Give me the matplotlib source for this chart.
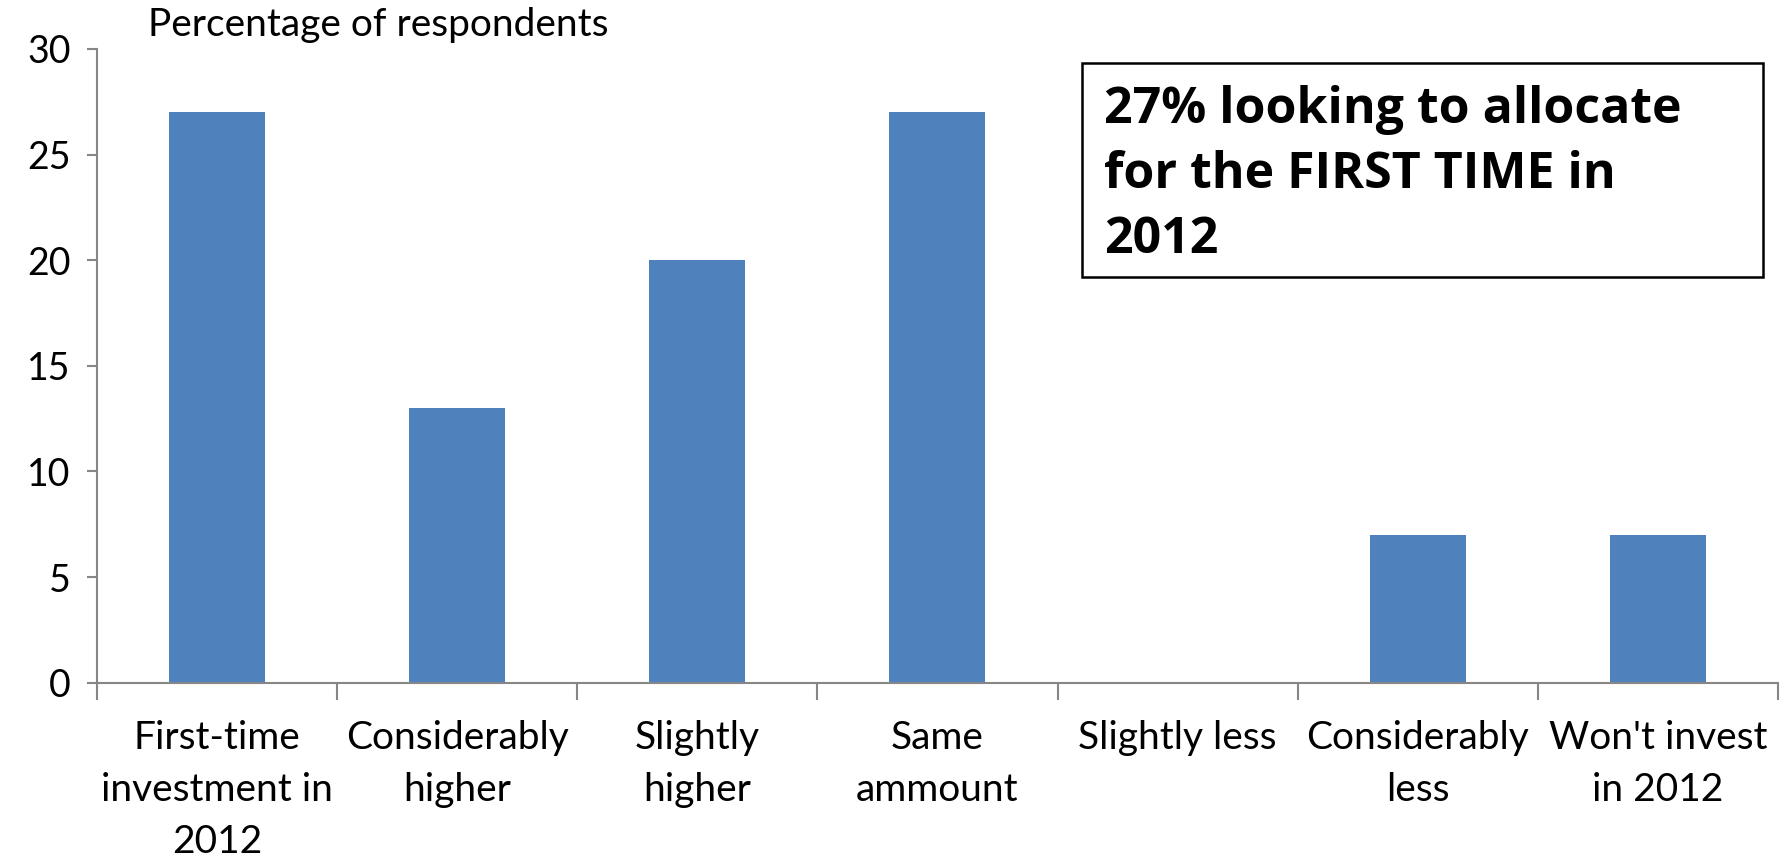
import matplotlib
matplotlib.use("Agg")
import matplotlib.pyplot as plt
from matplotlib.patches import Rectangle
import numpy as np
from matplotlib.ticker import FixedLocator, NullFormatter

categories = [
    "First-time\ninvestment in\n2012",
    "Considerably\nhigher",
    "Slightly\nhigher",
    "Same\nammount",
    "Slightly less",
    "Considerably\nless",
    "Won't invest\nin 2012",
]
percentages = [27, 13, 20, 27, 0, 7, 7]
y_ticks = [0, 5, 10, 15, 20, 25, 30]
callout_lines = ["27% looking to allocate", "for the FIRST TIME in", "2012"]

bar_color = "#4F81BD"
axis_color = "#868686"
font = "Lato"
callout_font = "Open Sans"

W, H = 1787, 859
fig = plt.figure(figsize=(W / 100, H / 100), dpi=100)
ax = fig.add_axes([0.0542, 0.2052, 0.9408, 0.7378])

x = np.arange(len(categories))
ax.bar(x, percentages, width=0.4, color=bar_color, zorder=2)

ax.set_xlim(-0.5, len(categories) - 0.5)
ax.set_ylim(0, 30)

for side in ("top", "right"):
    ax.spines[side].set_visible(False)
for side in ("left", "bottom"):
    ax.spines[side].set_color(axis_color)
    ax.spines[side].set_linewidth(1.5)

ax.set_yticks(y_ticks)
ax.set_yticklabels([str(v) for v in y_ticks], fontsize=27, family=font)
ax.tick_params(axis="y", length=7, width=1.5, color=axis_color, pad=12)

ax.set_xticks(x)
ax.set_xticklabels(categories, fontsize=28, family=font, linespacing=1.54)
ax.tick_params(axis="x", which="major", length=0, pad=27)
ax.xaxis.set_minor_locator(FixedLocator(np.arange(len(categories) + 1) - 0.5))
ax.xaxis.set_minor_formatter(NullFormatter())
ax.tick_params(axis="x", which="minor", length=12, width=1.5, color=axis_color)
for lab in ax.get_xticklabels():
    lab.set_verticalalignment("top")

fig.text(148 / W, 1 - 25 / H, "Percentage of respondents", fontsize=28,
         family=font, ha="left", va="center")

# Callout box with the key finding
bx0, bx1, by0, by1 = 1081.6, 1763, 62.7, 277
fig.patches.append(Rectangle((bx0 / W, 1 - by1 / H), (bx1 - bx0) / W,
                             (by1 - by0) / H, transform=fig.transFigure,
                             facecolor="white", edgecolor="black",
                             linewidth=1.8, zorder=5))
for line, base in zip(callout_lines, [122.7, 188, 253]):
    fig.text(1104 / W, 1 - base / H, line, fontsize=36, fontweight="bold",
             family=callout_font, ha="left", va="baseline", zorder=6)

fig.savefig("out.png", dpi=100)
